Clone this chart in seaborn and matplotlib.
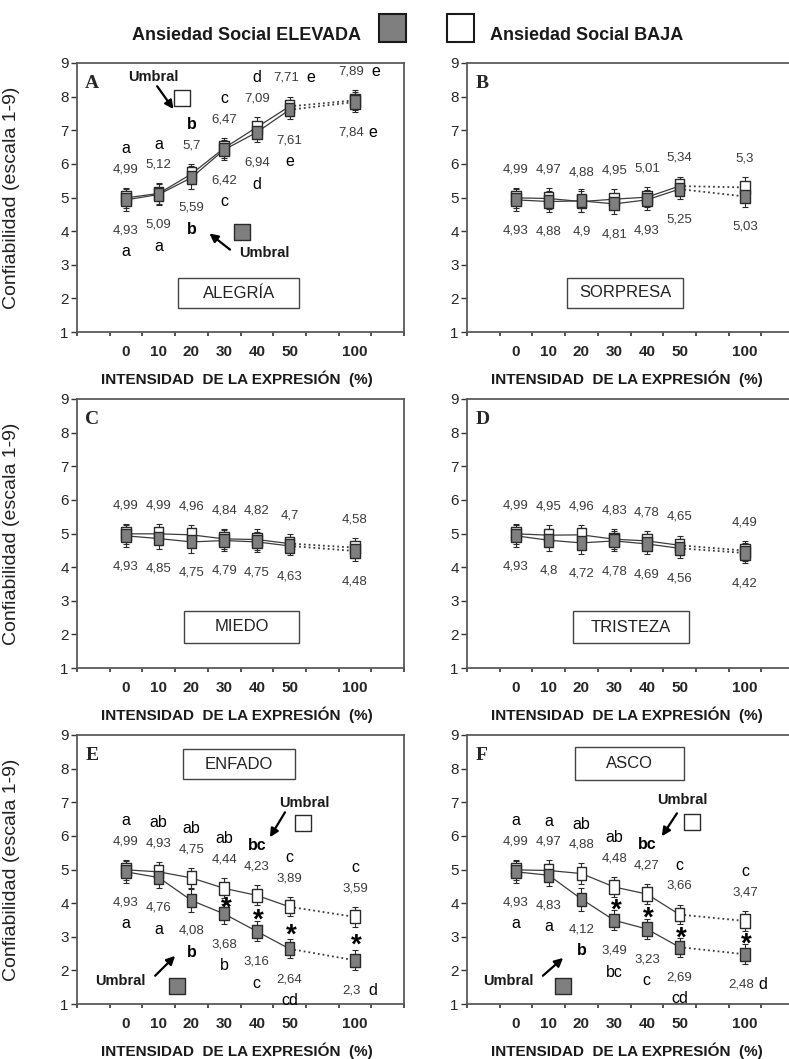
import numpy as np
import pandas as pd
import matplotlib.pyplot as plt
import seaborn as sns
from matplotlib.patches import Rectangle

sns.set_style("white")
plt.rcParams['font.family'] = ['Liberation Sans', 'DejaVu Sans']
NARROW = ['Liberation Sans Narrow', 'Liberation Sans', 'DejaVu Sans']

# --- data ---
INTENSIDAD = ["0", "10", "20", "30", "40", "50", "100"]
PANELES = ["A", "B", "C", "D", "E", "F"]
EMOCIONES = ["ALEGRÍA", "SORPRESA", "MIEDO", "TRISTEZA", "ENFADO", "ASCO"]

ALEGRIA_ELEVADA = [4.93, 5.09, 5.59, 6.42, 6.94, 7.61, 7.84]
ALEGRIA_BAJA = [4.99, 5.12, 5.70, 6.47, 7.09, 7.71, 7.89]
SORPRESA_ELEVADA = [4.93, 4.88, 4.90, 4.81, 4.93, 5.25, 5.03]
SORPRESA_BAJA = [4.99, 4.97, 4.88, 4.95, 5.01, 5.34, 5.30]
MIEDO_ELEVADA = [4.93, 4.85, 4.75, 4.79, 4.75, 4.63, 4.48]
MIEDO_BAJA = [4.99, 4.99, 4.96, 4.84, 4.82, 4.70, 4.58]
TRISTEZA_ELEVADA = [4.93, 4.80, 4.72, 4.78, 4.69, 4.56, 4.42]
TRISTEZA_BAJA = [4.99, 4.95, 4.96, 4.83, 4.78, 4.65, 4.49]
ENFADO_ELEVADA = [4.93, 4.76, 4.08, 3.68, 3.16, 2.64, 2.30]
ENFADO_BAJA = [4.99, 4.93, 4.75, 4.44, 4.23, 3.89, 3.59]
ASCO_ELEVADA = [4.93, 4.83, 4.12, 3.49, 3.23, 2.69, 2.48]
ASCO_BAJA = [4.99, 4.97, 4.88, 4.48, 4.27, 3.66, 3.47]

# approximate standard errors (whisker length)
ERR_ELEVADA = [0.32, 0.32, 0.34, 0.30, 0.30, 0.28, 0.30]
ERR_BAJA = [0.30, 0.30, 0.30, 0.30, 0.30, 0.28, 0.30]

# post-hoc letters
ALEGRIA_LET_ELEVADA = ["a", "a", "b", "c", "d", "e", "e"]
ALEGRIA_LET_BAJA = ["a", "a", "b", "c", "d", "e", "e"]
ENFADO_LET_ELEVADA = ["a", "a", "b", "b", "c", "cd", "d"]
ENFADO_LET_BAJA = ["a", "ab", "ab", "ab", "bc", "c", "c"]
ASCO_LET_ELEVADA = ["a", "a", "b", "bc", "c", "cd", "d"]
ASCO_LET_BAJA = ["a", "a", "ab", "ab", "bc", "c", "c"]
ENFADO_SIG = [False, False, False, True, True, True, True]
ASCO_SIG = [False, False, False, True, True, True, True]

PANEL_DATA = {
    "A": (ALEGRIA_ELEVADA, ALEGRIA_BAJA, ALEGRIA_LET_ELEVADA, ALEGRIA_LET_BAJA, None, (2, 2)),
    "B": (SORPRESA_ELEVADA, SORPRESA_BAJA, None, None, None, None),
    "C": (MIEDO_ELEVADA, MIEDO_BAJA, None, None, None, None),
    "D": (TRISTEZA_ELEVADA, TRISTEZA_BAJA, None, None, None, None),
    "E": (ENFADO_ELEVADA, ENFADO_BAJA, ENFADO_LET_ELEVADA, ENFADO_LET_BAJA, ENFADO_SIG, (2, 4)),
    "F": (ASCO_ELEVADA, ASCO_BAJA, ASCO_LET_ELEVADA, ASCO_LET_BAJA, ASCO_SIG, (2, 4)),
}

# --- layout ---
SLOTS = [1.5, 2.5, 3.5, 4.5, 5.5, 6.5, 8.5]
GRAY = "#7f7f7f"
EDGE = "#2a2a2a"
TXT = "#3a3a3a"
RECT = [(-0.72, -1), (0.72, -1), (0.72, 1), (-0.72, 1), (-0.72, -1)]

W, H = 789, 1059
AX_POS = {
    "A": (77, 63), "B": (467, 63),
    "C": (77, 399), "D": (467, 399),
    "E": (77, 735), "F": (467, 735),
}
AX_W, AX_H = 327, 269

BOXES = {
    "A": (3.1, 1.7, 3.7, 0.9), "B": (3.06, 1.7, 3.54, 0.92),
    "C": (3.27, 1.75, 3.53, 0.95), "D": (3.24, 1.73, 3.54, 0.97),
    "E": (3.24, 7.69, 3.43, 0.89), "F": (3.3, 7.66, 3.34, 0.98),
}

# (square, text, arrow tail, arrow head) for each threshold marker
UMBRAL = {
    "A": {"BAJA": ((3.2, 7.95), (2.34, 8.58), (2.45, 8.31), (2.95, 7.63)),
          "ELEVADA": ((5.04, 3.96), (5.72, 3.36), (4.68, 3.45), (4.05, 3.93))},
    "E": {"BAJA": ((6.91, 6.37), (6.95, 6.97), (6.36, 6.70), (5.90, 5.96)),
          "ELEVADA": ((3.06, 1.54), (1.31, 1.69), (2.39, 1.84), (3.00, 2.43))},
    "F": {"BAJA": ((6.88, 6.40), (6.57, 7.06), (6.42, 6.67), (5.96, 5.99)),
          "ELEVADA": ((2.94, 1.54), (1.25, 1.69), (2.32, 1.84), (2.94, 2.37))},
}
INLINE_TOP = {"A": [5, 6]}
INLINE_BOT = {"A": [6], "E": [6], "F": [6]}


def fmt(v):
    s = f"{v:.2f}".rstrip("0").rstrip(".")
    return s.replace(".", ",")


fig = plt.figure(figsize=(W / 100, H / 100), dpi=100)

for p, emo in zip(PANELES, EMOCIONES):
    elev, baja, let_e, let_b, sig, umb = PANEL_DATA[p]
    x0, y0 = AX_POS[p]
    ax = fig.add_axes([x0 / W, 1 - (y0 + AX_H) / H, AX_W / W, AX_H / H])

    df = pd.DataFrame({
        "slot": SLOTS * 2,
        "valor": baja + elev,
        "err": ERR_BAJA + ERR_ELEVADA,
        "grupo": ["BAJA"] * 7 + ["ELEVADA"] * 7,
    })
    pal_line = {"BAJA": "#3c3c3c", "ELEVADA": "#3c3c3c"}
    sns.lineplot(data=df[df.slot <= 6.5], x="slot", y="valor", hue="grupo",
                 palette=pal_line, estimator=None, sort=False, lw=0.9,
                 legend=False, ax=ax, zorder=2)
    sns.lineplot(data=df[df.slot >= 6.5], x="slot", y="valor", hue="grupo",
                 palette=pal_line, estimator=None, sort=False, lw=1.3,
                 linestyle=":", legend=False, ax=ax, zorder=2)
    for g in ["BAJA", "ELEVADA"]:
        d = df[df.grupo == g]
        ax.errorbar(d.slot, d.valor, yerr=d.err, fmt="none", ecolor=EDGE,
                    elinewidth=0.8, capsize=2, capthick=0.8, zorder=3)
    sns.scatterplot(data=df, x="slot", y="valor", hue="grupo",
                    palette={"BAJA": "white", "ELEVADA": GRAY}, marker=RECT,
                    s=90, edgecolor=EDGE, linewidth=1.0, legend=False,
                    ax=ax, zorder=4)

    # value labels
    for i, s in enumerate(SLOTS):
        hi = max(elev[i], baja[i]) + 0.85
        lo = min(elev[i], baja[i]) - 0.9
        inl_t = i in INLINE_TOP.get(p, [])
        inl_b = i in INLINE_BOT.get(p, [])
        xt = s - 0.1 if inl_t else s
        xb = s - 0.1 if inl_b else s
        ax.text(xt, hi, fmt(baja[i]), ha="center", va="center",
                fontsize=9.5, color=TXT, family=NARROW)
        ax.text(xb, lo, fmt(elev[i]), ha="center", va="center",
                fontsize=9.5, color=TXT, family=NARROW)
        if let_b is not None:
            bold_b = umb is not None and i == umb[1]
            bold_e = umb is not None and i == umb[0]
            if inl_t:
                ax.text(s + 0.5, hi, let_b[i], ha="left", va="center",
                        fontsize=11.5, color="black")
            else:
                ax.text(s, hi + 0.62, let_b[i], ha="center", va="center",
                        fontsize=11.5, color="black",
                        fontweight="bold" if bold_b else "normal")
            if inl_b:
                ax.text(s + 0.4, lo, let_e[i], ha="left", va="center",
                        fontsize=11.5, color="black")
            else:
                ax.text(s, lo - 0.64, let_e[i], ha="center", va="center",
                        fontsize=11.5, color="black",
                        fontweight="bold" if bold_e else "normal")
        if sig is not None and sig[i]:
            ax.text(s + 0.05, (elev[i] + baja[i]) / 2 - 0.22, "*",
                    ha="center", va="center", fontsize=20,
                    fontweight="bold", color="black")

    # threshold annotations
    for g, (sq, tx, a0, a1) in UMBRAL.get(p, {}).items():
        ax.scatter([sq[0]], [sq[1]], marker="s", s=120,
                   color="white" if g == "BAJA" else GRAY,
                   edgecolor=EDGE, linewidth=1.0, zorder=5)
        ax.text(tx[0], tx[1], "Umbral", ha="center", va="center",
                fontsize=10.5, fontweight="bold", color="#1a1a1a")
        ax.annotate("", xy=a1, xytext=a0,
                    arrowprops=dict(arrowstyle="-|>,head_length=0.5,head_width=0.25",
                                    color="black", lw=1.6, shrinkA=0, shrinkB=0))

    # emotion box
    bx, by, bw, bh = BOXES[p]
    ax.add_patch(Rectangle((bx, by), bw, bh, facecolor="white",
                           edgecolor="#444444", lw=1.0, zorder=1))
    ax.text(bx + bw / 2, by + bh / 2, emo, ha="center", va="center",
            fontsize=12, color="#222222", zorder=2)

    # panel letter
    ax.text(0.25, 8.4, p, ha="left", va="center", fontsize=14,
            fontweight="bold", family=["Liberation Serif", "DejaVu Serif"])

    # axes
    ax.set_xlim(0, 10)
    ax.set_ylim(1, 9)
    ax.set_xticks(range(11))
    ax.set_xticklabels([])
    ax.set_xticks(SLOTS, minor=True)
    ax.set_xticklabels(INTENSIDAD, minor=True, fontweight="bold", fontsize=11)
    ax.tick_params(axis="x", which="major", bottom=True, length=3,
                   width=1.2, color="#333333", direction="out")
    ax.tick_params(axis="x", which="minor", bottom=True, length=0, pad=9)
    ax.set_yticks(range(1, 10))
    ax.tick_params(axis="y", left=True, length=4, width=1.0,
                   color="#333333", direction="out", pad=2, labelsize=11)
    for sp in ax.spines.values():
        sp.set_color("#5a5a5a")
        sp.set_linewidth(1.3)
    ax.set_xlabel("INTENSIDAD  DE LA EXPRESIÓN  (%)", fontsize=11,
                  fontweight="bold", color="#1a1a1a")
    ax.xaxis.set_label_coords(0.49, -0.142)
    if p in ("A", "C", "E"):
        ax.set_ylabel("Confiabilidad (escala 1-9)", fontsize=14, color="#222222")
        ax.yaxis.set_label_coords(-0.174, 0.5)
    else:
        ax.set_ylabel("")

# legend at top
fig.text(361 / W, 1 - 40 / H, "Ansiedad Social ELEVADA", ha="right",
         va="baseline", fontsize=13, fontweight="bold", color="#1a1a1a")
fig.add_artist(Rectangle((379 / W, 1 - 42 / H), 27 / W, 28 / H,
                         transform=fig.transFigure, facecolor=GRAY,
                         edgecolor="#1a1a1a", lw=1.5))
fig.add_artist(Rectangle((447 / W, 1 - 42 / H), 27 / W, 28 / H,
                         transform=fig.transFigure, facecolor="white",
                         edgecolor="#1a1a1a", lw=1.5))
fig.text(490 / W, 1 - 40 / H, "Ansiedad Social BAJA", ha="left",
         va="baseline", fontsize=13, fontweight="bold", color="#1a1a1a")

fig.savefig("out.png", dpi=100)
